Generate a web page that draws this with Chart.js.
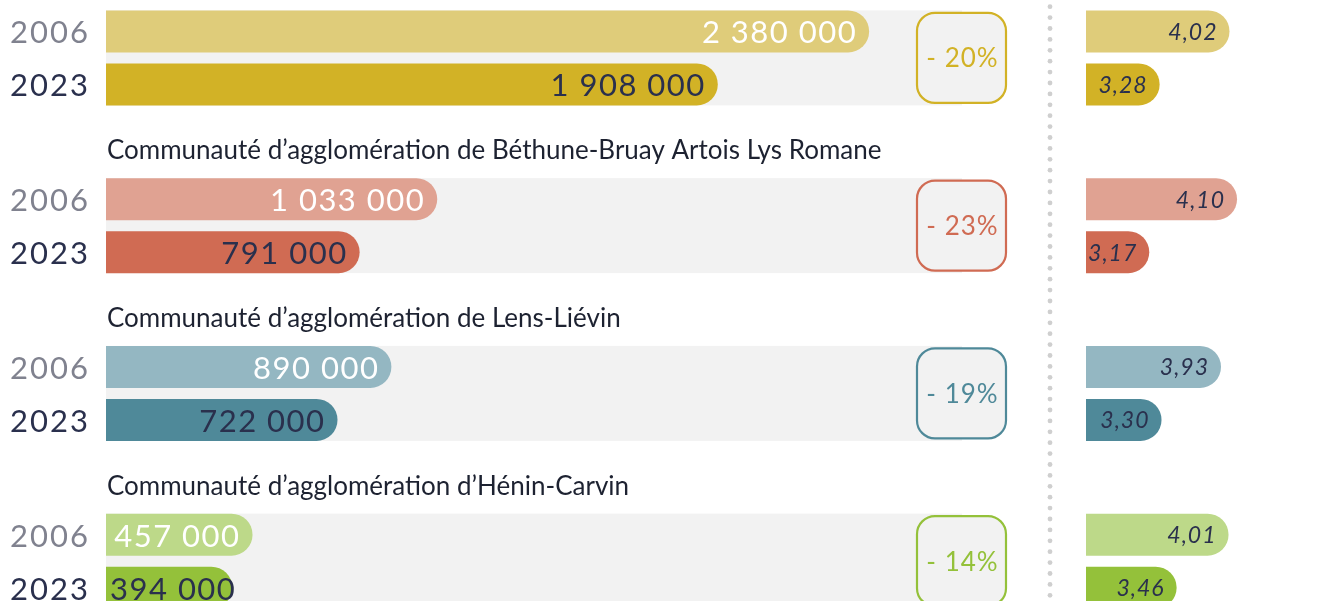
<!DOCTYPE html>
<html><head><meta charset="utf-8">
<script src="https://cdn.jsdelivr.net/npm/chart.js@4/dist/chart.umd.min.js"></script>
<style>
html,body{margin:0;padding:0;background:#fff;overflow:hidden;width:1339px;height:601px;position:relative}
canvas{position:absolute;top:-26px}
#left{left:0}
#right{left:1040px}
</style></head><body>
<canvas id="left" width="1040" height="671"></canvas>
<canvas id="right" width="299" height="671"></canvas>
<script>
// ---------- data ----------
const territories = [
  "",
  "Communauté d’agglomération de Béthune-Bruay Artois Lys Romane",
  "Communauté d’agglomération de Lens-Liévin",
  "Communauté d’agglomération d’Hénin-Carvin"
];
const years = ["2006", "2023"];
const values2006 = [2380000, 1033000, 890000, 457000];
const values2023 = [1908000, 791000, 722000, 394000];
const changePct = [-20, -23, -19, -14];
const ratio2006 = [4.02, 4.10, 3.93, 4.01];
const ratio2023 = [3.28, 3.17, 3.30, 3.46];

// ---------- styles ----------
const light = ["#dfcc7a", "#e0a292", "#94b7c2", "#bdd989"];
const dark  = ["#d2b226", "#d06b53", "#4f8999", "#94c13a"];
const FONT = "Lato";
const NAVY = "#2a304d";
const GREY_YEAR = "#80828f";

function fmtInt(v){ return String(v).replace(/\B(?=(\d{3})+(?!\d))/g, " "); }
function fmtDec(v){ return v.toFixed(2).replace(".", ","); }

const catPct = 106/167.75, barPct = 42/53;

const leftDeco = {
  id: "leftDeco",
  beforeDatasetsDraw(chart){
    const {ctx, chartArea} = chart;
    ctx.save();
    territories.forEach((t, i) => {
      const b0 = chart.getDatasetMeta(0).data[i].getProps(["y","height"]);
      const b1 = chart.getDatasetMeta(1).data[i].getProps(["y","height"]);
      const top = b0.y - b0.height/2, bot = b1.y + b1.height/2;
      ctx.fillStyle = "#f2f2f2";
      ctx.fillRect(chartArea.left, top, chartArea.right - 45 - chartArea.left, bot - top);
    });
    ctx.restore();
  },
  afterDatasetsDraw(chart){
    const {ctx, chartArea, scales:{y}} = chart;
    ctx.save();
    territories.forEach((t, i) => {
      const c = y.getPixelForValue(i);
      // title
      ctx.letterSpacing = "0px";
      ctx.font = `26px ${FONT}`;
      ctx.fillStyle = "#1d2231";
      ctx.textAlign = "left"; ctx.textBaseline = "middle";
      if (t) ctx.fillText(t, chartArea.left + 1, c - 75);
      // badge
      const r = chartArea.right - 1, l = r - 89;
      ctx.beginPath();
      ctx.roundRect(l, c - 45, r - l, 90, 18);
      ctx.fillStyle = "#f2f2f2"; ctx.fill();
      ctx.lineWidth = 2.2; ctx.strokeStyle = dark[i]; ctx.stroke();
      ctx.fillStyle = dark[i];
      ctx.font = `26px ${FONT}`;
      ctx.letterSpacing = "1px";
      ctx.textAlign = "center";
      ctx.fillText("- " + Math.abs(changePct[i]) + "%", (l + r)/2 + 1, c + 1);
      // bars: years + values
      [0,1].forEach(d => {
        const p = chart.getDatasetMeta(d).data[i].getProps(["x","y","base"]);
        ctx.font = `31px ${FONT}`;
        ctx.letterSpacing = "2px";
        ctx.textAlign = "center";
        ctx.fillStyle = d === 0 ? GREY_YEAR : NAVY;
        ctx.fillText(years[d], 50, p.y + 2);
        const v = chart.data.datasets[d].data[i];
        const txt = fmtInt(v);
        ctx.font = `31px ${FONT}`;
        ctx.letterSpacing = "1.5px";
        const w = ctx.measureText(txt).width;
        ctx.textAlign = "right";
        ctx.fillStyle = d === 0 ? "#ffffff" : NAVY;
        const x = Math.max(p.x - 12, p.base + 4 + w);
        ctx.fillText(txt, x, p.y + 2);
      });
    });
    ctx.restore();
  }
};

const rightDeco = {
  id: "rightDeco",
  beforeDatasetsDraw(chart){
    const {ctx, height} = chart;
    ctx.save();
    ctx.fillStyle = "#cfcfcf";
    for (let yy = 32.7; yy < height; yy += 10.9){
      ctx.beginPath(); ctx.arc(10, yy, 2.4, 0, Math.PI*2); ctx.fill();
    }
    ctx.restore();
  },
  afterDatasetsDraw(chart){
    const {ctx} = chart;
    ctx.save();
    chart.data.datasets.forEach((ds, d) => {
      chart.getDatasetMeta(d).data.forEach((el, i) => {
        const p = el.getProps(["x","y","base"]);
        const txt = fmtDec(ds.data[i]);
        ctx.font = `italic 23px ${FONT}`;
        ctx.letterSpacing = "1px";
        const w = ctx.measureText(txt).width;
        ctx.fillStyle = NAVY;
        ctx.textAlign = "right"; ctx.textBaseline = "middle";
        ctx.fillText(txt, Math.max(p.x - 12, p.base + 3 + w), p.y + 1);
      });
    });
    ctx.restore();
  }
};

const common = (xmin, xmax, padLeft, padRight) => ({
  indexAxis: "y",
  responsive: false,
  animation: false,
  layout: { padding: { left: padLeft, right: padRight, top: 0, bottom: 0 } },
  plugins: { legend: { display: false }, tooltip: { enabled: false } },
  scales: {
    x: { display: false, min: xmin, max: xmax, grid: { display: false } },
    y: { display: false, grid: { display: false } }
  }
});

const barDs = (data, colors) => ({
  data, backgroundColor: colors, borderWidth: 0, borderRadius: 21,
  categoryPercentage: catPct, barPercentage: barPct
});

new Chart(document.getElementById("left"), {
  type: "bar",
  data: { labels: territories, datasets: [ barDs(values2006, light), barDs(values2023, dark) ] },
  options: common(0, 2810000, 106, 33),
  plugins: [leftDeco]
});

new Chart(document.getElementById("right"), {
  type: "bar",
  data: { labels: territories, datasets: [ barDs(ratio2006, light), barDs(ratio2023, dark) ] },
  options: common(2.5, 5.18, 46, 0),
  plugins: [rightDeco]
});
</script>
</body></html>
